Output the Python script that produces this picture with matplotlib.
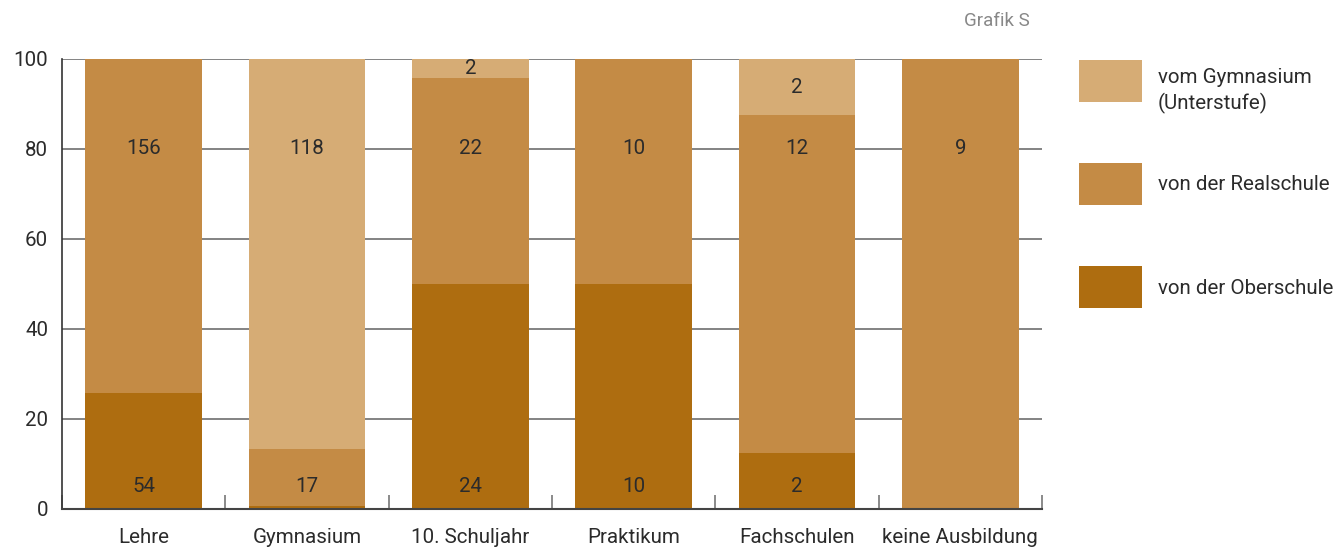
import matplotlib
matplotlib.use("Agg")
import matplotlib.pyplot as plt
import numpy as np

categories = ["Lehre", "Gymnasium", "10. Schuljahr", "Praktikum", "Fachschulen", "keine Ausbildung"]
oberschule = [54, 1, 24, 10, 2, 0]
realschule = [156, 17, 22, 10, 12, 9]
gymnasium = [0, 118, 2, 0, 2, 0]
series_names = ["von der Oberschule", "von der Realschule", "vom Gymnasium\n(Unterstufe)"]
yticks = [0, 20, 40, 60, 80, 100]

colors = ["#AE6D10", "#C48B45", "#D6AC75"]
plt.rcParams["font.family"] = ["Roboto", "DejaVu Sans"]
textc = "#2b2b2b"
fs = 14.8

fig = plt.figure(figsize=(13.35, 5.48), dpi=100)
ax = fig.add_axes([62/1335, 39/548, 980/1335, 450/548])

data = np.array([oberschule, realschule, gymnasium], dtype=float)
totals = data.sum(axis=0)
pct = data / totals * 100
x = np.arange(len(categories))
bottom = np.zeros(len(categories))
for i in range(3):
    ax.bar(x, pct[i], bottom=bottom, width=0.716, color=colors[i], zorder=2, linewidth=0)
    for j in range(len(categories)):
        v = data[i, j]
        p = pct[i, j]
        if v == 0 or p < 2:
            continue
        lo, hi = bottom[j], bottom[j] + p
        if lo <= 76 and hi >= 84:
            ty = 80
        elif lo < 2:
            ty = 5
        else:
            ty = (lo + hi) / 2
        ax.text(x[j], ty, f"{int(v)}", ha="center", va="center", fontsize=fs, color=textc, zorder=3)
    bottom += pct[i]

ax.set_xlim(-0.5, len(categories) - 0.5)
ax.set_ylim(0, 100)
ax.set_yticks(yticks)
ax.set_yticklabels([str(t) for t in yticks], fontsize=fs, color=textc)
ax.tick_params(axis="y", length=0, pad=10)
ax.grid(axis="y", color="#6e6e6e", linewidth=1.2, zorder=1)
ax.set_axisbelow(True)

ax.set_xticks(np.arange(len(categories) + 1) - 0.5)
ax.set_xticklabels([])
ax.tick_params(axis="x", direction="in", length=10, width=1.2, color="#777777")
for j, c in enumerate(categories):
    ax.text(x[j], -0.064, c, transform=ax.get_xaxis_transform(), ha="center", va="center",
            fontsize=fs, color=textc)

for s in ["top", "right"]:
    ax.spines[s].set_visible(False)
ax.spines["left"].set_color("#333333")
ax.spines["left"].set_linewidth(1.2)
ax.spines["bottom"].set_color("#444444")
ax.spines["bottom"].set_linewidth(1.5)

fig.text(1030/1335, 1 - 21/548, "Grafik S", ha="right", va="center", fontsize=13.5, color="#888888")

# legend
leg_order = [2, 1, 0]
tops = [60, 163, 266]
for k, i in enumerate(leg_order):
    t = tops[k]
    fig.patches.append(plt.Rectangle((1079/1335, 1 - (t + 42)/548), 63/1335, 42/548,
                                     transform=fig.transFigure, color=colors[i], linewidth=0))
    if "\n" in series_names[i]:
        fig.text(1158/1335, 1 - (t + 8)/548, series_names[i], ha="left", va="top",
                 fontsize=fs, color=textc, linespacing=1.35)
    else:
        fig.text(1158/1335, 1 - (t + 22)/548, series_names[i], ha="left", va="center",
                 fontsize=fs, color=textc)

fig.savefig("out.png", dpi=100)
